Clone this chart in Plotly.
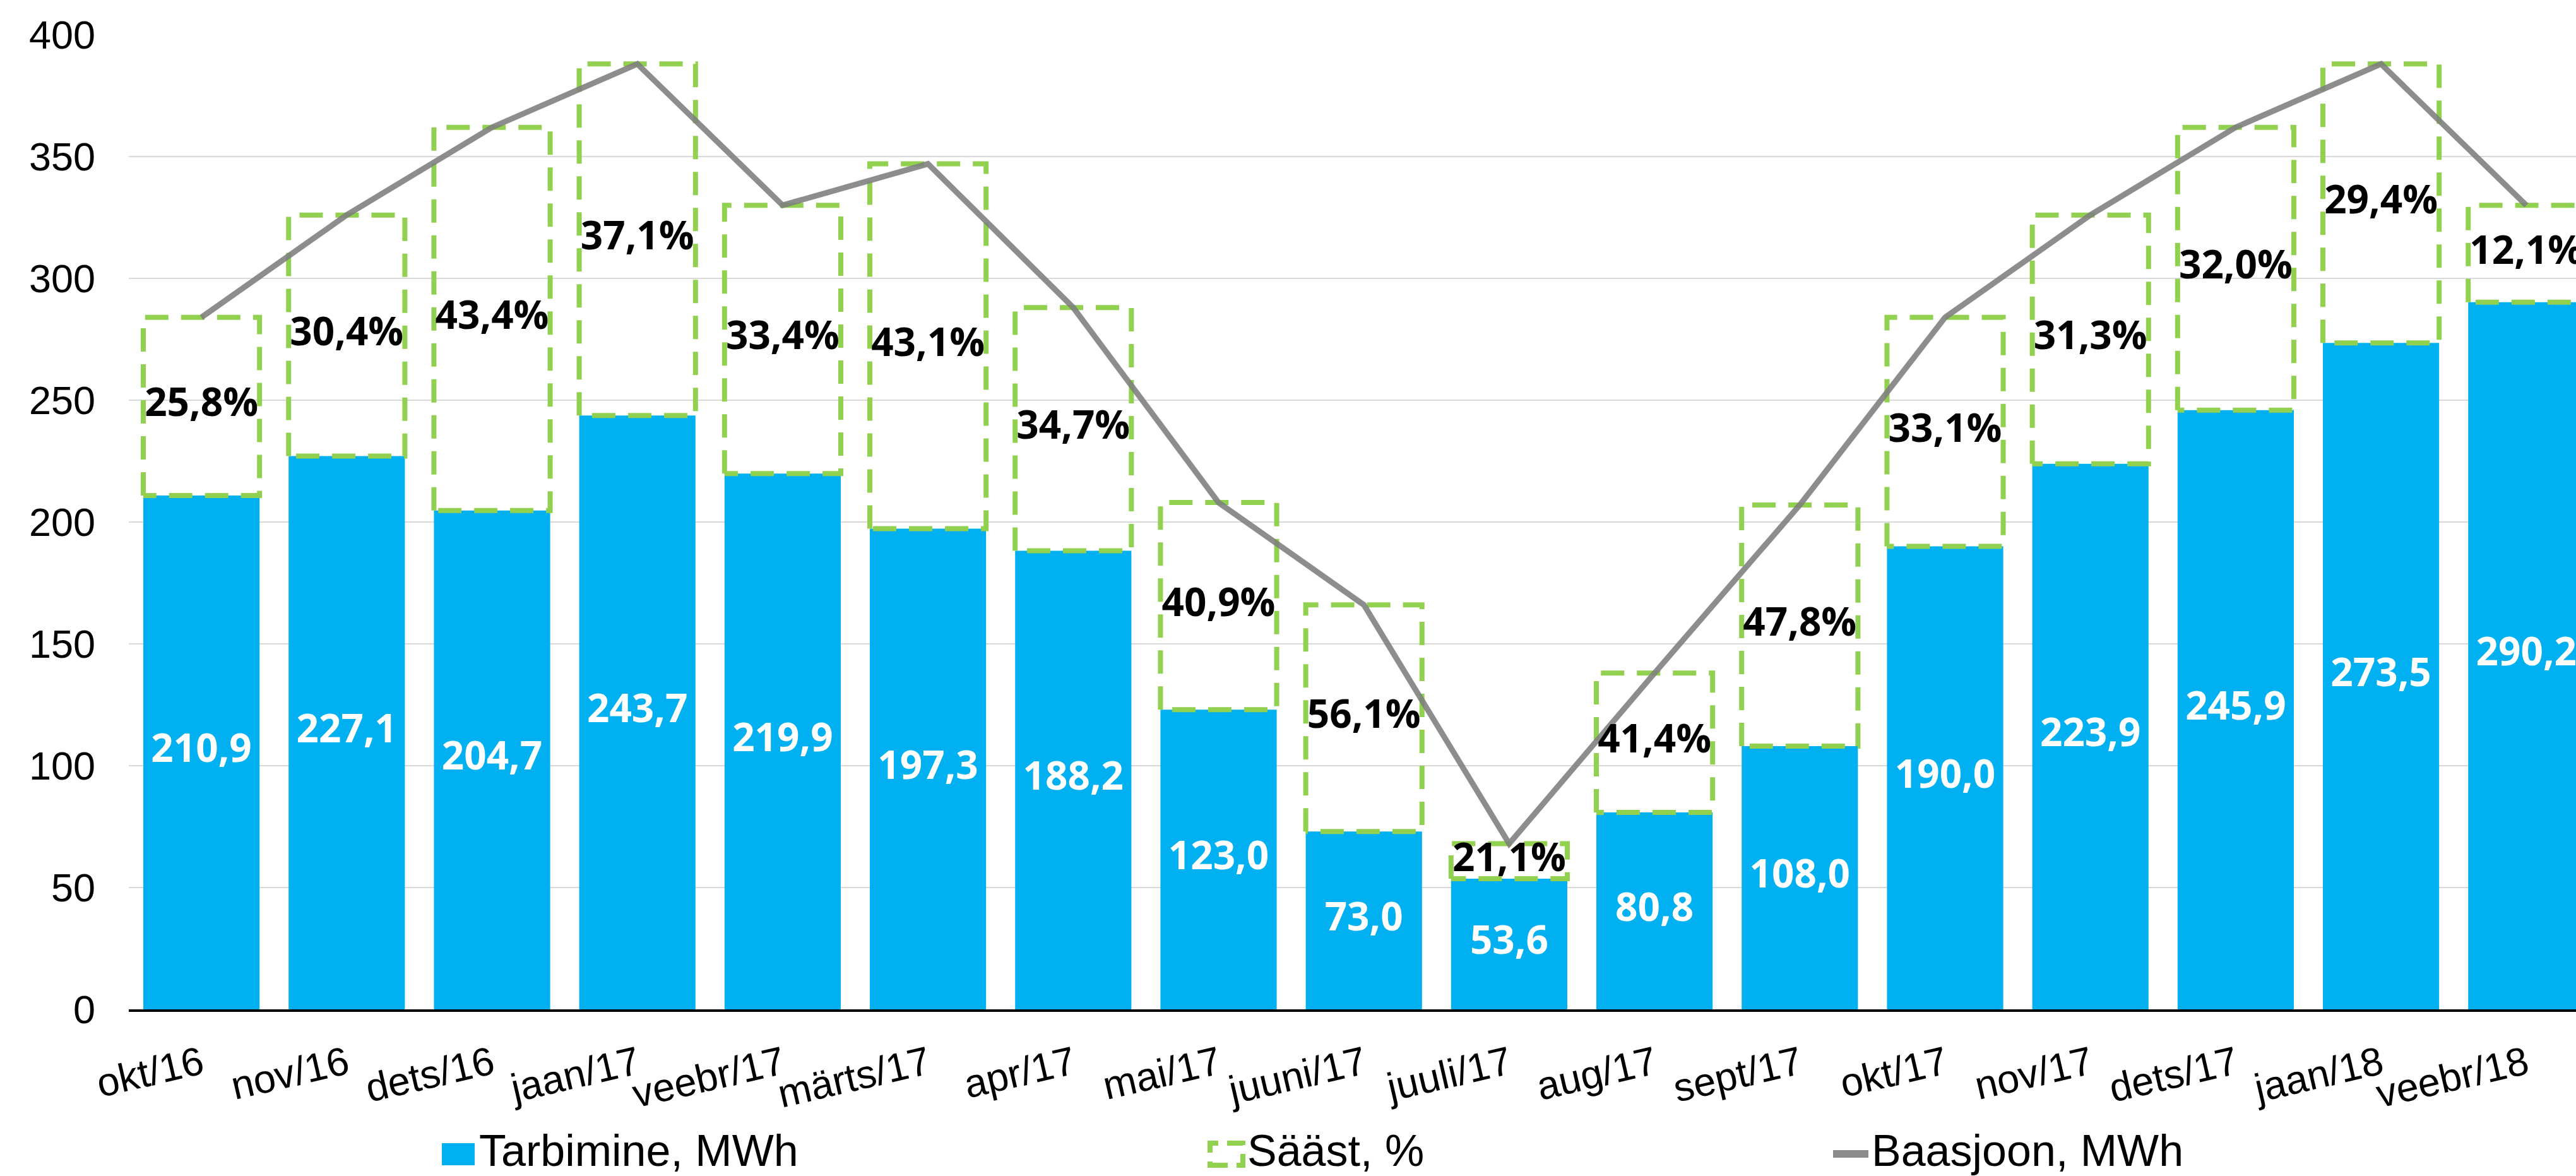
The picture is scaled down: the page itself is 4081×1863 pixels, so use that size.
import plotly.graph_objects as go

# ---- data ----
months = ["okt/16", "nov/16", "dets/16", "jaan/17", "veebr/17", "märts/17", "apr/17",
          "mai/17", "juuni/17", "juuli/17", "aug/17", "sept/17", "okt/17", "nov/17",
          "dets/17", "jaan/18", "veebr/18"]
consumption = [210.9, 227.1, 204.7, 243.7, 219.9, 197.3, 188.2, 123.0, 73.0, 53.6,
               80.8, 108.0, 190.0, 223.9, 245.9, 273.5, 290.2]
savings_pct = [25.8, 30.4, 43.4, 37.1, 33.4, 43.1, 34.7, 40.9, 56.1, 21.1,
               41.4, 47.8, 33.1, 31.3, 32.0, 29.4, 12.1]
baseline = [284, 326, 362, 388, 330, 347, 288, 208, 166, 68, 138, 207, 284, 326,
            362, 388, 330]
y_ticks = [0, 50, 100, 150, 200, 250, 300, 350, 400]

# ---- styles ----
BLUE = "#00B0F0"
GREEN = "#92D050"
GRAY = "rgba(125,125,125,0.88)"
TICK_FONT = dict(family="Liberation Sans, Arial, sans-serif", size=63, color="#000000")
LEG_FONT = dict(family="Liberation Sans, Arial, sans-serif", size=70, color="#000000")
LBL_FAMILY = "Open Sans, Noto Sans, sans-serif"

W, H = 4081, 1863
ML, MR, MT, MB = 204, 0, 55, 264
BAR_W = 0.8
CAT_PX = 230.2  # pixel width of one category

def fmt(v):
    return f"{v:.1f}".replace(".", ",")

xs = list(range(len(months)))

fig = go.Figure()

# consumption bars
fig.add_trace(go.Bar(
    x=xs, y=consumption, width=BAR_W, marker=dict(color=BLUE, line=dict(width=0)),
    name="Tarbimine, MWh", hoverinfo="skip", showlegend=False,
))

# dashed savings boxes (from consumption up to baseline)
bx, by = [], []
for i, (c, b) in enumerate(zip(consumption, baseline)):
    l, r = i - BAR_W / 2, i + BAR_W / 2
    bx += [l, l, r, r, l, None]
    by += [c, b, b, c, c, None]
fig.add_trace(go.Scatter(
    x=bx, y=by, mode="lines", name="Sääst, %",
    line=dict(color=GREEN, width=8, dash="37px,20px"),
    hoverinfo="skip", showlegend=False,
))

# baseline line
fig.add_trace(go.Scatter(
    x=xs, y=baseline, mode="lines", name="Baasjoon, MWh",
    line=dict(color=GRAY, width=9),
    hoverinfo="skip", showlegend=False,
))

# value labels inside blue bars
fig.add_trace(go.Scatter(
    x=xs, y=[c / 2 for c in consumption], mode="text",
    text=[fmt(c) for c in consumption], textposition="middle center",
    textfont=dict(family=LBL_FAMILY, size=62, color="#FFFFFF", weight="bold"),
    hoverinfo="skip", showlegend=False,
))

# savings % labels in the dashed boxes
fig.add_trace(go.Scatter(
    x=xs, y=[(c + b) / 2 for c, b in zip(consumption, baseline)], mode="text",
    text=[fmt(p) + "%" for p in savings_pct], textposition="middle center",
    textfont=dict(family=LBL_FAMILY, size=62, color="#000000", weight="bold"),
    hoverinfo="skip", showlegend=False,
))

plot_w = W - ML - MR
plot_h = H - MT - MB

def px_x(p):
    return (p - ML) / plot_w

def px_y(p):
    return (H - MB - p) / plot_h

shapes = [
    dict(type="rect", xref="paper", yref="paper",
         x0=px_x(700), x1=px_x(752), y0=px_y(1846), y1=px_y(1811),
         fillcolor=BLUE, line=dict(width=0)),
    dict(type="rect", xref="paper", yref="paper",
         x0=px_x(1917), x1=px_x(1969), y0=px_y(1846), y1=px_y(1811),
         fillcolor="rgba(0,0,0,0)", line=dict(color=GREEN, width=8, dash="28px,14px")),
    dict(type="line", xref="paper", yref="paper",
         x0=px_x(2904), x1=px_x(2960), y0=px_y(1828), y1=px_y(1828),
         line=dict(color=GRAY, width=12)),
]
annotations = [
    dict(text="Tarbimine, MWh", x=px_x(758), y=px_y(1823)),
    dict(text="Sääst, %", x=px_x(1975), y=px_y(1823)),
    dict(text="Baasjoon, MWh", x=px_x(2964), y=px_y(1823)),
]
for a in annotations:
    a.update(xref="paper", yref="paper", xanchor="left", yanchor="middle",
             showarrow=False, font=LEG_FONT, borderpad=0)

x_right = (W - ML - MR) / CAT_PX - 0.5

fig.update_layout(
    width=W, height=H,
    margin=dict(l=ML, r=MR, t=MT, b=MB, pad=0),
    paper_bgcolor="white", plot_bgcolor="white",
    showlegend=False,
    shapes=shapes, annotations=annotations,
    xaxis=dict(
        range=[-0.5, x_right],
        tickmode="array", tickvals=xs, ticktext=months,
        tickangle=-13, tickfont=TICK_FONT,
        showgrid=False, zeroline=False,
        showline=True, linecolor="#000000", linewidth=4,
        ticks="", ticklabelstandoff=22, fixedrange=True,
    ),
    yaxis=dict(
        range=[0, 400], tickmode="array", tickvals=y_ticks,
        tickfont=TICK_FONT, showgrid=True, gridcolor="#D9D9D9", gridwidth=2,
        zeroline=False, showline=False, ticks="", ticklabelstandoff=52,
        fixedrange=True,
    ),
)

fig.write_html("out.html", config={"displayModeBar": False},
               post_script="document.body.style.margin='0';document.body.style.overflow='hidden';")
